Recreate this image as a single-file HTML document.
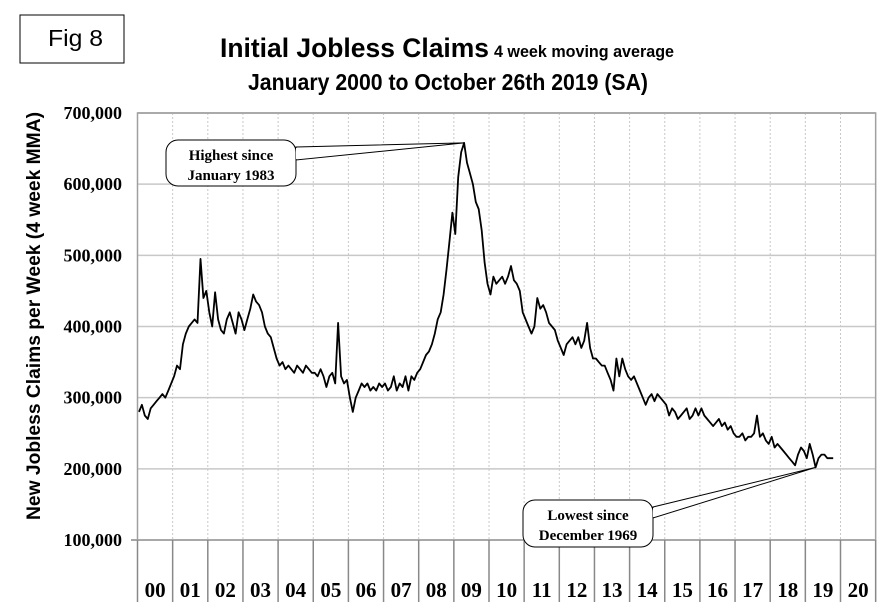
<!DOCTYPE html>
<html><head><meta charset="utf-8"><style>
html,body{margin:0;padding:0;background:#fff;}
svg{display:block;}
.ser{font-family:"Liberation Serif",serif;font-weight:bold;}
.sans{font-family:"Liberation Sans",sans-serif;}
</style></head><body>
<svg id="chart" width="881" height="614" viewBox="0 0 881 614">
  <rect x="20" y="15" width="104" height="48" fill="#fff" stroke="#000" stroke-width="1"/>
  <text x="48" y="46" class="sans" font-size="23" textLength="55" lengthAdjust="spacingAndGlyphs">Fig 8</text>
  <text x="220" y="57" class="sans" font-size="27" font-weight="bold" textLength="269" lengthAdjust="spacingAndGlyphs">Initial Jobless Claims</text>
  <text x="494" y="57" class="sans" font-size="17" font-weight="bold" textLength="180" lengthAdjust="spacingAndGlyphs">4 week moving average</text>
  <text x="248" y="90" class="sans" font-size="23" font-weight="bold" textLength="400" lengthAdjust="spacingAndGlyphs">January 2000 to October 26th 2019 (SA)</text>
  <text transform="translate(40,520) rotate(-90)" class="sans" font-size="19" font-weight="bold" textLength="408" lengthAdjust="spacingAndGlyphs">New Jobless Claims per Week (4 week MMA)</text>
  <g id="grid"></g>
  <g id="axes"></g>
  <g id="series"></g>
  <g id="notes"></g>
</svg>
<script>
const yTicks=[100,200,300,400,500,600,700];
const yearLabels=["00","01","02","03","04","05","06","07","08","09","10","11","12","13","14","15","16","17","18","19","20"];
const startYear=2000;
// monthly 4-week MA values (thousands)
const y2000=[280,290,275,270,285,290,295,300,305,300,310,320];
const y2001=[330,345,340,375,390,400,405,410,405,495,440,450];
const y2002=[420,400,448,410,395,390,410,420,405,390,420,410];
const y2003=[395,410,425,445,435,430,420,400,390,385,370,355];
const y2004=[345,350,340,345,340,335,345,340,335,345,340,335];
const y2005=[335,330,340,330,315,330,335,320,405,330,320,325];
const y2006=[300,280,300,310,320,315,320,310,315,310,320,315];
const y2007=[320,310,315,330,310,320,315,330,310,330,325,335];
const y2008=[340,350,360,365,375,390,410,420,445,480,520,560];
const y2009=[530,610,645,658,630,615,600,575,565,535,490,460];
const y2010=[445,470,460,465,470,460,470,485,465,460,450,420];
const y2011=[410,400,390,400,440,425,430,420,405,400,395,380];
const y2012=[370,360,375,380,385,375,385,370,380,405,370,355];
const y2013=[355,350,345,345,335,325,310,355,330,355,340,330];
const y2014=[325,330,320,310,300,290,300,305,295,305,300,295];
const y2015=[290,275,285,280,270,275,280,285,270,275,285,275];
const y2016=[285,275,270,265,260,265,270,260,265,255,260,250];
const y2017=[245,245,250,240,245,245,250,275,245,250,240,235];
const y2018=[245,230,235,230,225,220,215,210,205,220,230,225];
const y2019=[215,235,220,202,215,220,220,215,215,215];
const claims=[].concat(y2000,y2001,y2002,y2003,y2004,y2005,y2006,y2007,y2008,y2009,y2010,y2011,y2012,y2013,y2014,y2015,y2016,y2017,y2018,y2019);
const peakValue=658, peakIndex=111, lowValue=202, lowIndex=231;

const X0=137.5, COLW=35.15, YTOP=113, YBOT=540, YMIN=100, YMAX=700;
const xAt=i=>X0+(i+0.5)/12*COLW;
const yAt=v=>YBOT-(v-YMIN)/(YMAX-YMIN)*(YBOT-YTOP);
const NS="http://www.w3.org/2000/svg";
function mk(tag,attrs,parent){const e=document.createElementNS(NS,tag);for(const k in attrs)e.setAttribute(k,attrs[k]);parent.appendChild(e);return e;}
const grid=document.getElementById('grid'),axes=document.getElementById('axes'),ser=document.getElementById('series'),notes=document.getElementById('notes');
const XR=X0+COLW*yearLabels.length;
for(let i=1;i<yearLabels.length;i++){
  const x=X0+i*COLW;
  const l=mk('line',{x1:x,y1:YTOP,x2:x,y2:YBOT,stroke:'#c8c8c8','stroke-width':1,'stroke-dasharray':'2,2'},grid);
  
  
}
yTicks.forEach(v=>{
  const y=yAt(v);
  const l=mk('line',{x1:v===YMIN?131:X0,y1:y,x2:XR,y2:y,stroke:v===YMIN?'#888':'#c8c8c8','stroke-width':v===YMAX?2:1.5},grid);
  
  
  const t=mk('text',{x:122,y:y+6,'text-anchor':'end','font-size':18,class:'ser'},axes);
  t.textContent=v.toLocaleString('en-US')+',000';
  
  
});
const fr=mk('rect',{x:X0,y:YTOP,width:XR-X0,height:YBOT-YTOP,fill:'none',stroke:'#a0a0a0','stroke-width':1.5},grid);


for(let i=0;i<=yearLabels.length;i++){
  const x=X0+i*COLW;
  const l=mk('line',{x1:x,y1:YBOT,x2:x,y2:602,stroke:'#888','stroke-width':1.5},axes);
  
  
}
yearLabels.forEach((lab,i)=>{
  const t=mk('text',{x:X0+(i+0.5)*COLW,y:597,'text-anchor':'middle','font-size':21,class:'ser'},axes);
  t.textContent=lab;
  
  
});
const pts=claims.map((v,i)=>xAt(i).toFixed(1)+','+yAt(v).toFixed(1)).join(' ');
const pl=mk('polyline',{points:pts,fill:'none',stroke:'#000','stroke-width':1.8,'stroke-linejoin':'round'},ser);


function callout(name,bx,by,bw,bh,px,py,a1,a2,lines){
  const g=mk('g',{},notes);
  
  
  mk('polygon',{points:`${a1[0]},${a1[1]} ${px},${py} ${a2[0]},${a2[1]}`,fill:'#fff',stroke:'#000','stroke-width':1},g);
  mk('rect',{x:bx,y:by,width:bw,height:bh,rx:12,fill:'#fff',stroke:'#000','stroke-width':1},g);
  mk('polygon',{points:`${a1[0]},${a1[1]+1} ${a1[0]+1},${a1[1]+1} ${a2[0]+1},${a2[1]-1} ${a2[0]},${a2[1]-1}`,fill:'#fff'},g);
  lines.forEach((s,k)=>{const t=mk('text',{x:bx+bw/2,y:by+20+k*20,'text-anchor':'middle','font-size':15,class:'ser'},g);t.textContent=s;});
}
callout('callout-highest',166,140,130,46,xAt(peakIndex),yAt(peakValue),[296,147],[296,160],['Highest since','January 1983']);
callout('callout-lowest',523,500,130,47,xAt(lowIndex),yAt(lowValue),[653,507],[653,518],['Lowest since','December 1969']);
</script>
</body></html>
